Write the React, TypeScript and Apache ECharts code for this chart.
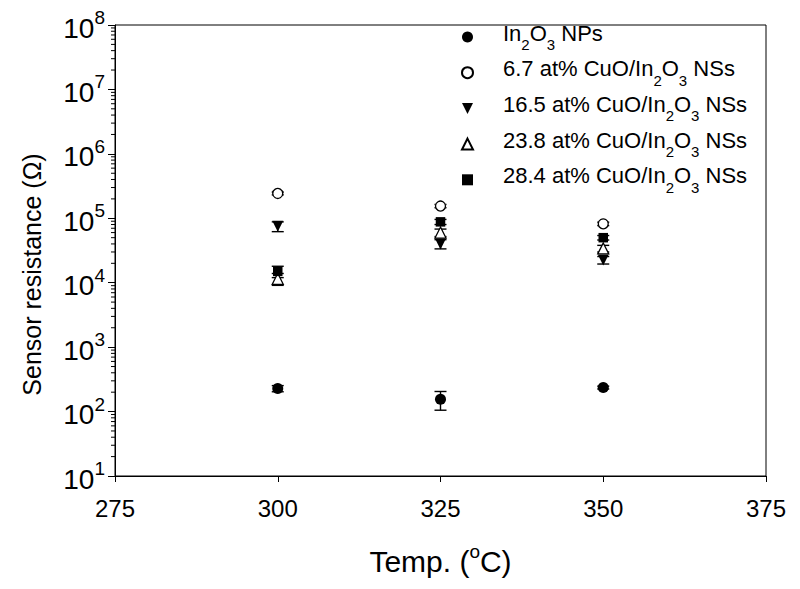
import React, { useEffect, useRef } from 'react';
import * as echarts from 'echarts';

const temps = [300, 325, 350];
const seriesNames = [
  'In2O3 NPs',
  '6.7 at% CuO/In2O3 NSs',
  '16.5 at% CuO/In2O3 NSs',
  '23.8 at% CuO/In2O3 NSs',
  '28.4 at% CuO/In2O3 NSs',
];
const in2o3 = [228, 155, 236];
const in2o3Err = [25, 50, 12];
const cu67 = [243000, 155000, 82000];
const cu67Err = [12000, 9000, 5000];
const cu165 = [75000, 40000, 22500];
const cu165Err = [13000, 6500, 3000];
const cu238 = [11500, 60000, 34000];
const cu238Err = [2400, 8000, 4000];
const cu284 = [15000, 88000, 50000];
const cu284Err = [3000, 8000, 4000];

const xTickMin = 275;
const xTickMax = 375;
const xTickStep = 25;
const yMin = 10;
const yMax = 1e8;
const decades = [10, 100, 1000, 1e4, 1e5, 1e6, 1e7];
const minorMultipliers = [2, 3, 4, 5, 6, 7, 8, 9];

const FONT = '"Liberation Sans", Arial, sans-serif';

const values = [in2o3, cu67, cu165, cu238, cu284];
const errors = [in2o3Err, cu67Err, cu165Err, cu238Err, cu284Err];
const symbols = ['circle', 'circle', 'triangle', 'triangle', 'rect'];
const rotations = [0, 0, 180, 0, 0];
const fills = ['#000', '#fff', '#000', '#fff', '#000'];
const sizes = [11, 10, 11, 11, 9.5];
const downTriangleIcon = 'path://M0,0 L10,0 L5,10 Z';

const richName = (name: string) => {
  const parts = name.split('In2O3');
  const tokens: string[] = [];
  parts.forEach((p, i) => {
    if (i > 0) tokens.push('{n|In}{s|2}{n|O}{s|3}');
    if (p) tokens.push(`{n|${p}}`);
  });
  return tokens.join('');
};

export default function App() {
  const ref = useRef<HTMLDivElement>(null);
  useEffect(() => {
    if (!ref.current) return;
    const chart = echarts.init(ref.current, undefined, { renderer: 'svg' });

    const minorData: number[][] = [];
    decades.forEach((d) => minorMultipliers.forEach((m) => minorData.push([xTickMin, d * m])));

    const errData: number[][] = [];
    values.forEach((vals, si) =>
      vals.forEach((v, i) => errData.push([temps[i], v, errors[si][i]]))
    );

    const scatterSeries = values.map((vals, si) => ({
      name: seriesNames[si],
      type: 'scatter',
      data: vals.map((v, i) => [temps[i], v]),
      symbol: symbols[si],
      symbolRotate: rotations[si],
      symbolSize: sizes[si],
      itemStyle: {
        color: fills[si],
        borderColor: '#000',
        borderWidth: fills[si] === '#fff' ? 1.3 : 0,
        opacity: 1,
      },
      z: 3,
    }));

    const option: any = {
      animation: false,
      backgroundColor: '#fff',
      textStyle: { fontFamily: FONT },
      grid: { left: 107, right: 26, top: 8, bottom: 99, show: true, borderColor: '#000', borderWidth: 1 },
      legend: {
        orient: 'vertical',
        left: 448,
        top: 9,
        itemWidth: 11,
        itemHeight: 11,
        itemGap: 5.7,
        data: seriesNames.map((name, i) =>
          rotations[i] === 180 ? { name, icon: downTriangleIcon } : { name }
        ),
        formatter: (name: string) => richName(name),
        textStyle: {
          padding: [0, 0, 0, 25],
          rich: {
            n: { fontSize: 22, fontFamily: FONT, color: '#000', lineHeight: 30, verticalAlign: 'top' },
            s: { fontSize: 15, fontFamily: FONT, color: '#000', lineHeight: 7, verticalAlign: 'bottom' },
          },
        },
      },
      xAxis: {
        type: 'value',
        min: xTickMin,
        max: xTickMax,
        interval: xTickStep,
        name: '{n|Temp. (}{s|o}{n|C)}',
        nameLocation: 'middle',
        nameGap: 66,
        nameTextStyle: {
          rich: {
            n: { fontSize: 30, fontFamily: FONT, color: '#000', lineHeight: 34, verticalAlign: 'bottom' },
            s: { fontSize: 19, fontFamily: FONT, color: '#000', lineHeight: 12, verticalAlign: 'top' },
          },
        },
        axisLine: { lineStyle: { color: '#000', width: 1 } },
        axisTick: { show: true, inside: false, length: 6, lineStyle: { color: '#000' } },
        axisLabel: { fontSize: 24, color: '#000', fontFamily: FONT, margin: 20 },
        splitLine: { show: false },
      },
      yAxis: {
        type: 'log',
        logBase: 10,
        min: yMin,
        max: yMax,
        interval: 1,
        name: 'Sensor resistance (Ω)',
        nameLocation: 'middle',
        nameGap: 71,
        nameTextStyle: { fontSize: 25, color: '#000', fontFamily: FONT, padding: [0, 48, 0, 0] },
        axisLine: { lineStyle: { color: '#000', width: 1 } },
        axisTick: { show: true, inside: false, length: 7, lineStyle: { color: '#000' } },
        axisLabel: {
          margin: 10,
          formatter: (v: number) => `{b|10}{e|${Math.round(Math.log10(v))}}`,
          rich: {
            b: { fontSize: 28, fontFamily: FONT, color: '#000', lineHeight: 34, verticalAlign: 'bottom' },
            e: { fontSize: 19, fontFamily: FONT, color: '#000', lineHeight: 19, verticalAlign: 'top' },
          },
        },
        splitLine: { show: false },
      },
      series: [
        {
          type: 'custom',
          silent: true,
          clip: false,
          data: minorData,
          renderItem: (params: any, api: any) => {
            const p = api.coord([api.value(0), api.value(1)]);
            return {
              type: 'line',
              shape: { x1: p[0] - 4, y1: p[1], x2: p[0], y2: p[1] },
              style: { stroke: '#000', lineWidth: 1 },
            };
          },
          z: 1,
        },
        {
          type: 'custom',
          silent: true,
          data: errData,
          renderItem: (params: any, api: any) => {
            const x = api.value(0);
            const y = api.value(1);
            const e = api.value(2);
            const top = api.coord([x, y + e]);
            const bot = api.coord([x, y - e]);
            const hw = 6;
            const st = { stroke: '#000', lineWidth: 1.4 };
            return {
              type: 'group',
              children: [
                { type: 'line', shape: { x1: top[0], y1: top[1], x2: bot[0], y2: bot[1] }, style: st },
                { type: 'line', shape: { x1: top[0] - hw, y1: top[1], x2: top[0] + hw, y2: top[1] }, style: st },
                { type: 'line', shape: { x1: bot[0] - hw, y1: bot[1], x2: bot[0] + hw, y2: bot[1] }, style: st },
              ],
            };
          },
          z: 2,
        },
        ...scatterSeries,
      ],
    };
    chart.setOption(option);
    return () => chart.dispose();
  }, []);
  return <div ref={ref} style={{ width: 784, height: 573 }} />;
}
